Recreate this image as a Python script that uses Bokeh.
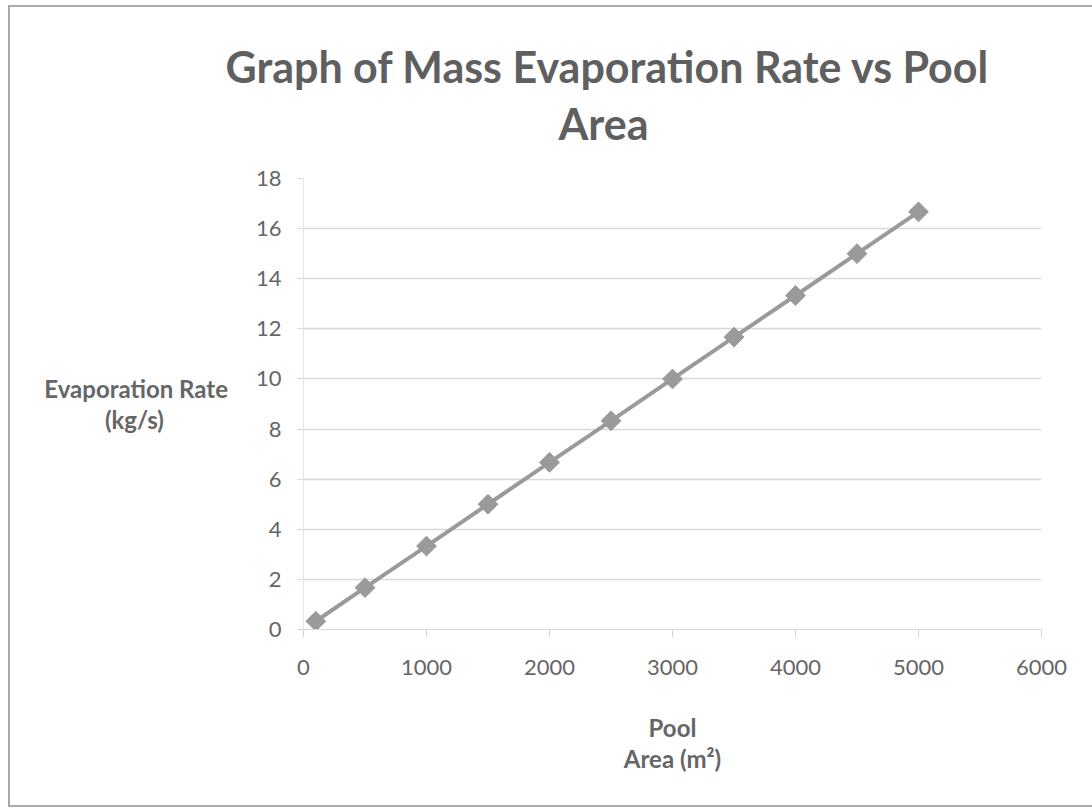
import math

from bokeh.plotting import figure
from bokeh.models import Range1d, SingleIntervalTicker, Title, InlineStyleSheet
from bokeh.embed import file_html
from bokeh.resources import INLINE

# Pool area (m^2) and mass evaporation rate (kg/s)
pool_area = [100, 500, 1000, 1500, 2000, 2500, 3000, 3500, 4000, 4500, 5000]
evap_rate = [0.33, 1.67, 3.33, 5.00, 6.67, 8.33, 10.00, 11.67, 13.33, 15.00, 16.67]

# non-breaking spaces keep the short second lines centred under the first
title_text = "Graph of Mass Evaporation Rate vs Pool\n" + "\u00a0" * 32 + "Area"
y_label_text = "Evaporation Rate\n(kg/s)" + "\u00a0" * 11
x_label_text = "Pool\nArea (m\u00b2)"

FONT = "Lato"
GREY = "#9a9a9a"
TEXT = "#666666"

# chart border drawn around the whole canvas
border_css = InlineStyleSheet(css="""
:host::after {
  content: '';
  position: absolute;
  left: 8px; top: 5px; right: 0px; bottom: 1px;
  border: 2px solid #a9a9a9;
  border-right: none;
  pointer-events: none;
}
""")

p = figure(
    width=1092, height=808,
    x_range=Range1d(0, 6000), y_range=Range1d(0, 18),
    output_backend="svg", toolbar_location=None,
    min_border_left=303, min_border_right=51,
    min_border_top=178, min_border_bottom=179,
    background_fill_color="white", border_fill_color="white",
    stylesheets=[border_css],
)
p.outline_line_color = None

p.add_layout(Title(
    text=title_text, align="left", offset=-78, standoff=57,
    vertical_align="middle",
    text_font=FONT, text_font_size="43px", text_font_style="bold",
    text_color="#5f5f5f", text_line_height=1.125,
), "above")

# axes
p.xaxis.ticker = SingleIntervalTicker(interval=1000)
p.yaxis.ticker = SingleIntervalTicker(interval=2)
for ax in (p.xaxis[0], p.yaxis[0]):
    ax.major_label_text_font = FONT
    ax.major_label_text_font_size = "22px"
    ax.major_label_text_color = TEXT
    ax.minor_tick_line_color = None
    ax.major_tick_in = 0
    ax.major_tick_line_color = "#d6d6d6"
    ax.axis_line_color = "#d6d6d6"
    ax.axis_label_text_font = FONT
    ax.axis_label_text_font_size = "24px"
    ax.axis_label_text_font_style = "bold"
    ax.axis_label_text_color = TEXT
    ax.axis_label_text_line_height = 1.1
p.xaxis.major_tick_out = 8
p.xaxis.major_label_standoff = 22
p.xaxis.axis_label = x_label_text
p.xaxis.axis_label_standoff = 35
p.yaxis.major_tick_out = 6
p.yaxis.major_label_standoff = 16
p.yaxis.axis_line_color = "#e6e6e6"
p.yaxis.axis_label = y_label_text
p.yaxis.axis_label_orientation = "horizontal"
p.yaxis.axis_label_standoff = 25

p.xgrid.grid_line_color = None
p.ygrid.grid_line_color = "#d9d9d9"
p.ygrid.grid_line_width = 1.5

# series
p.line(pool_area, evap_rate, line_color=GREY, line_width=4)
p.scatter(pool_area, evap_rate, marker="square", angle=math.pi / 4, size=14,
          fill_color=GREY, line_color=GREY)

open("out.html", "w").write(file_html(p, INLINE))
